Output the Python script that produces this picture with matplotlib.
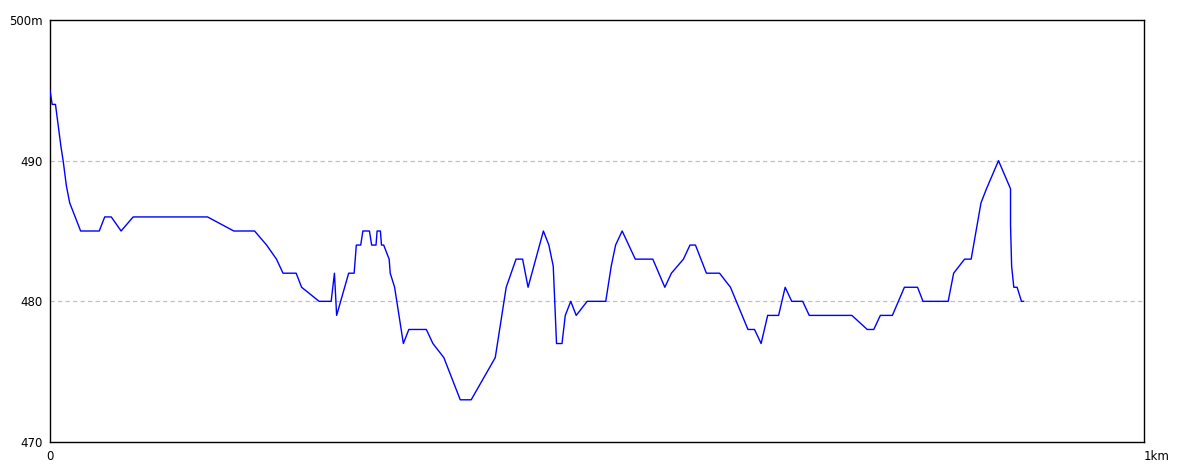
import matplotlib
matplotlib.use("Agg")
import matplotlib.pyplot as plt

# distance along route (km) and elevation (m)
dist_km = [0.000, 0.002, 0.005, 0.010, 0.012, 0.015, 0.018, 0.028, 0.045, 0.050,
           0.056, 0.065, 0.076, 0.144, 0.168, 0.187, 0.198, 0.207, 0.213, 0.225,
           0.230, 0.246, 0.257, 0.260, 0.262, 0.273, 0.278, 0.280, 0.284, 0.286,
           0.292, 0.294, 0.298, 0.299, 0.302, 0.303, 0.305, 0.310, 0.311, 0.315,
           0.323, 0.328, 0.344, 0.350, 0.360, 0.375, 0.385, 0.407, 0.413, 0.417,
           0.426, 0.432, 0.437, 0.451, 0.456, 0.460, 0.463, 0.468, 0.471, 0.476,
           0.481, 0.491, 0.508, 0.513, 0.517, 0.523, 0.535, 0.551, 0.562, 0.568,
           0.579, 0.585, 0.590, 0.600, 0.612, 0.622, 0.638, 0.644, 0.650, 0.656,
           0.666, 0.672, 0.678, 0.688, 0.694, 0.733, 0.747, 0.753, 0.759, 0.770,
           0.781, 0.793, 0.798, 0.821, 0.826, 0.836, 0.842, 0.851, 0.856, 0.867,
           0.878, 0.878, 0.879, 0.881, 0.884, 0.888, 0.890]
elev_m = [495, 494, 494, 491, 490, 488.2, 487, 485, 485, 486,
          486, 485, 486, 486, 485, 485, 484, 483, 482, 482,
          481, 480, 480, 482, 479, 482, 482, 484, 484, 485,
          485, 484, 484, 485, 485, 484, 484, 483, 482, 481,
          477, 478, 478, 477, 476, 473, 473, 476, 479, 481,
          483, 483, 481, 485, 484, 482.5, 477, 477, 479, 480,
          479, 480, 480, 482.5, 484, 485, 483, 483, 481, 482,
          483, 484, 484, 482, 482, 481, 478, 478, 477, 479,
          479, 481, 480, 480, 479, 479, 478, 478, 479, 479,
          481, 481, 480, 480, 482, 483, 483, 487, 488, 490,
          488, 485.4, 482.5, 481, 481, 480, 480]

y_ticks = [470, 480, 490, 500]
y_labels = ["470", "480", "490", "500m"]
x_ticks = [0, 1]
x_labels = ["0", "1km"]
grid_levels = [480, 490]

W, H = 1184, 473
fig = plt.figure(figsize=(W / 100, H / 100), dpi=100)
fig.patch.set_facecolor("white")
ax = fig.add_axes([50 / W, (H - 442) / H, 1094 / W, 422 / H])

for g in grid_levels:
    ax.axhline(g, color="#c0c0c0", lw=0.9, linestyle=(0, (3.5, 2.5)), zorder=1)

ax.plot(dist_km, elev_m, color="#0000ff", lw=1.0, zorder=3)

ax.set_xlim(0, 1)
ax.set_ylim(470, 500)
ax.set_yticks(y_ticks)
ax.set_yticklabels(y_labels)
ax.set_xticks(x_ticks)
ax.set_xticklabels(x_labels)
ax.tick_params(length=0, labelsize=8.5, colors="black")
ax.tick_params(axis="y", pad=5)
ax.tick_params(axis="x", pad=6)
xl = ax.get_xticklabels()
xl[1].set_horizontalalignment("left")
for s in ax.spines.values():
    s.set_color("black")
    s.set_linewidth(1.0)

fig.savefig("out.png", dpi=100, facecolor="white")
